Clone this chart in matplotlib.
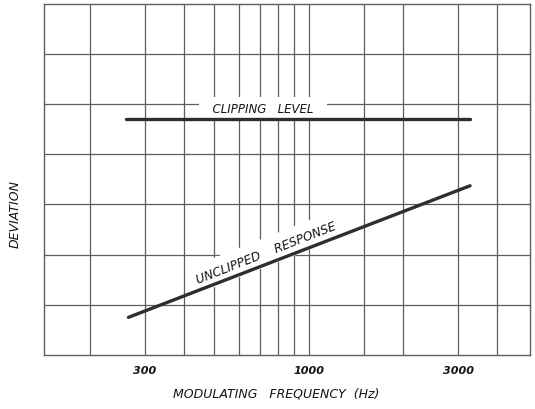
import matplotlib
matplotlib.use("Agg")
import matplotlib.pyplot as plt

# ---- data ----
grid_freqs = [200, 300, 400, 500, 600, 700, 800, 900, 1000, 1500, 2000, 3000, 4000]
labeled_freqs = {300: "300", 1000: "1000", 3000: "3000"}
dev_grid = [1, 2, 3, 4, 5, 6]

clip_freq = [262, 3270]
clip_dev = [4.70, 4.70]

resp_freq = [266, 3270]
resp_dev = [0.75, 3.37]

# ---- figure ----
fig = plt.figure(figsize=(5.35, 4.10), dpi=100)
ax = fig.add_axes([44 / 535, 1 - 356 / 410, 486 / 535, 351.5 / 410])

ax.set_xscale("log")
ax.set_xlim(143, 5080)
ax.set_ylim(0, 7)

grid_col = "#5e5e5e"
line_col = "#2e2e2e"
text_col = "#151515"

for f in grid_freqs:
    ax.axvline(f, color=grid_col, lw=0.9, zorder=1)
for d in dev_grid:
    ax.axhline(d, color=grid_col, lw=0.9, zorder=1)

for s in ax.spines.values():
    s.set_color(grid_col)
    s.set_linewidth(1.0)

ax.set_xticks(grid_freqs)
ax.set_xticklabels([labeled_freqs.get(f, "") for f in grid_freqs])
ax.xaxis.set_minor_locator(matplotlib.ticker.NullLocator())
ax.set_yticks([])
ax.tick_params(axis="x", length=0, pad=7, labelsize=8)
for lbl in ax.get_xticklabels():
    lbl.set_fontstyle("italic")
    lbl.set_fontweight("bold")
    lbl.set_color(text_col)

ax.plot(clip_freq, clip_dev, color=line_col, lw=2.4, solid_capstyle="round", zorder=4)
ax.plot(resp_freq, resp_dev, color=line_col, lw=2.4, solid_capstyle="round", zorder=4)

ax.text(714, 4.90, "  CLIPPING   LEVEL  ", ha="center", va="center", fontsize=8.5,
        fontstyle="italic", color=text_col, zorder=3,
        bbox=dict(boxstyle="square,pad=0.5", fc="white", ec="none"))

ax.text(731, 2.05, "UNCLIPPED    RESPONSE", ha="center", va="center", fontsize=8.7,
        fontstyle="italic", color=text_col, rotation=21.5, rotation_mode="anchor",
        zorder=3, bbox=dict(boxstyle="square,pad=0.6", fc="white", ec="none"))

ax.set_xlabel("MODULATING   FREQUENCY  (Hz)", fontsize=9, fontstyle="italic",
              color=text_col)
ax.xaxis.set_label_coords(0.477, -0.09)
ax.set_ylabel("DEVIATION", fontsize=9, fontstyle="italic", color=text_col)
ax.yaxis.set_label_coords(-0.045, 0.404)

fig.savefig("out.png", dpi=100)
